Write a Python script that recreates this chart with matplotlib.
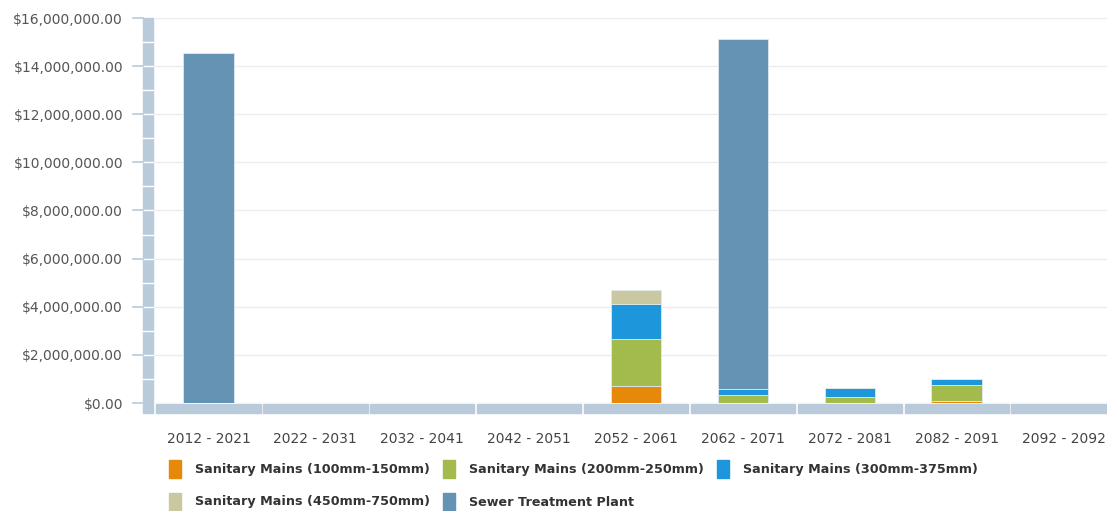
import matplotlib
matplotlib.use("Agg")
import matplotlib.pyplot as plt
from matplotlib.patches import Rectangle
from matplotlib.transforms import blended_transform_factory
from matplotlib.ticker import FuncFormatter

W, H = 1107, 511

categories = ["2012 - 2021", "2022 - 2031", "2032 - 2041", "2042 - 2051", "2052 - 2061",
              "2062 - 2071", "2072 - 2081", "2082 - 2091", "2092 - 2092"]
mains_100_150 = [0, 0, 0, 0, 720_000, 0, 0, 70_000, 0]
mains_200_250 = [0, 0, 0, 0, 1_930_000, 330_000, 230_000, 680_000, 0]
mains_300_375 = [0, 0, 0, 0, 1_480_000, 240_000, 400_000, 250_000, 0]
mains_450_750 = [0, 0, 0, 0, 570_000, 0, 0, 0, 0]
treatment_plant = [14_560_000, 0, 0, 0, 0, 14_560_000, 0, 0, 0]

series = [
    ("Sanitary Mains (100mm-150mm)", mains_100_150, "#e6890a"),
    ("Sanitary Mains (200mm-250mm)", mains_200_250, "#a3ba4c"),
    ("Sanitary Mains (300mm-375mm)", mains_300_375, "#1e96db"),
    ("Sanitary Mains (450mm-750mm)", mains_450_750, "#c9c8a0"),
    ("Sewer Treatment Plant", treatment_plant, "#6593b3"),
]
y_ticks = list(range(0, 16_000_001, 2_000_000))

BAND = "#b9cadb"
GRID = "#ececec"


def fx(px):
    return px / W


def fy(py):
    return 1 - py / H


fig = plt.figure(figsize=(W / 100, H / 100), dpi=100)
ax = fig.add_axes([fx(155), fy(403), fx(W) - fx(155), fy(18) - fy(403)])

cat_w = 106.9
ax.set_xlim(-0.5, -0.5 + (W - 155) / cat_w)
ax.set_ylim(0, 16_000_000)

x = list(range(len(categories)))
bottom = [0] * len(categories)
for label, vals, color in series:
    ax.bar(x, vals, width=0.474, bottom=bottom, color=color,
           edgecolor="#dfe8ef", linewidth=0.6, zorder=3)
    bottom = [b + v for b, v in zip(bottom, vals)]

for s in ax.spines.values():
    s.set_visible(False)
ax.set_yticks(y_ticks)
ax.yaxis.set_major_formatter(FuncFormatter(lambda v, _: f"${v:,.2f}"))
ax.tick_params(axis="y", length=0, pad=23, labelsize=10, labelcolor="#555555")
ax.set_xticks(x)
ax.set_xticklabels(categories)
ax.tick_params(axis="x", length=0, pad=21, labelsize=10, labelcolor="#444444")
ax.grid(axis="y", color=GRID, linewidth=1, zorder=0)
ax.set_axisbelow(True)

# y-axis band, cut by thin white lines every million, plus tick stubs
ty = blended_transform_factory(fig.transFigure, ax.transData)
fig.patches.append(Rectangle((fx(143), 0), fx(153) - fx(143), 16_000_000,
                             transform=ty, color=BAND, zorder=1))
for i in range(1, 16):
    fig.lines.append(plt.Line2D([fx(143), fx(153)], [i * 1_000_000] * 2, transform=ty,
                                color="white", linewidth=1.0, zorder=2))
for v in y_ticks:
    fig.lines.append(plt.Line2D([fx(133), fx(143)], [v, v], transform=ty,
                                color=BAND, linewidth=1.2))

# segmented x-axis band, one piece per category
tx = blended_transform_factory(ax.transData, fig.transFigure)
for i in x:
    fig.patches.append(Rectangle((i - 0.5 + 0.012, fy(413)), 1 - 0.024, fy(404) - fy(413),
                                 transform=tx, color=BAND, zorder=1))
fig.patches.append(Rectangle((fx(143), fy(413)), fx(153) - fx(143), fy(404) - fy(413),
                             transform=fig.transFigure, color=BAND, zorder=1))

# legend
legend_pos = [(169, 469), (443, 469), (717, 469), (169, 502), (443, 502)]
for (label, _, color), (px, py) in zip(series, legend_pos):
    fig.patches.append(Rectangle((fx(px), fy(py + 9)), fx(12), fy(0) - fy(18),
                                 transform=fig.transFigure, color=color))
    fig.text(fx(px + 26), fy(py), label, fontsize=9.2, fontweight="bold",
             color="#333333", va="center", ha="left")

fig.savefig("out.png", dpi=100)
